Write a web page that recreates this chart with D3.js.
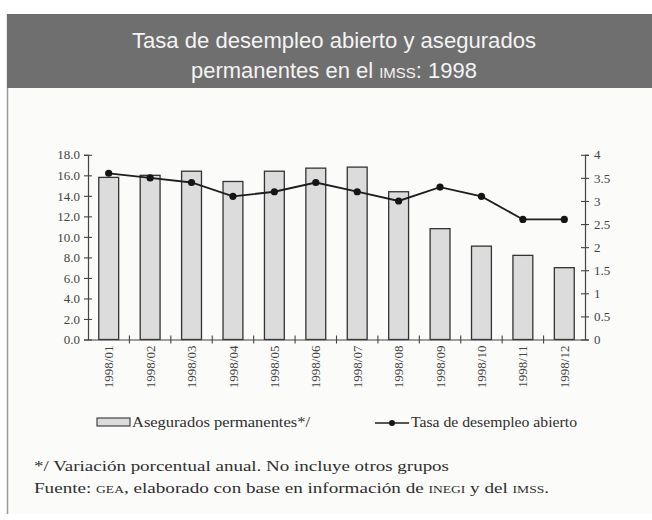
<!DOCTYPE html>
<html>
<head>
<meta charset="utf-8">
<script src="https://cdn.jsdelivr.net/npm/d3@7.9.0/dist/d3.min.js"></script>
<style>
  body { margin: 0; background: #fff; }
  svg { display: block; }
  .serif, .serif text { font-family: 'Liberation Serif', 'Times New Roman', 'DejaVu Serif', serif; }
  .sans, .sans text { font-family: 'Liberation Sans', Arial, sans-serif; }
</style>
</head>
<body>
<svg width="652" height="520"></svg>
<script>
// Data
const months = ['1998/01', '1998/02', '1998/03', '1998/04', '1998/05', '1998/06',
  '1998/07', '1998/08', '1998/09', '1998/10', '1998/11', '1998/12'];
const asegurados = [15.8, 16.0, 16.4, 15.4, 16.4, 16.7, 16.8, 14.4, 10.8, 9.1, 8.2, 7.0];
const desempleo = [3.6, 3.5, 3.4, 3.1, 3.2, 3.4, 3.2, 3.0, 3.3, 3.1, 2.6, 2.6];
const leftTicks = [0, 2, 4, 6, 8, 10, 12, 14, 16, 18];
const rightTicks = [0, 0.5, 1, 1.5, 2, 2.5, 3, 3.5, 4];

const svg = d3.select('svg');
const ink = '#2e2e2e';

// frame + title band
svg.append('rect').attr('x', 7).attr('y', 14).attr('width', 645).attr('height', 500)
  .attr('fill', '#fbfbfa');
svg.append('line').attr('x1', 7.5).attr('x2', 7.5).attr('y1', 14).attr('y2', 514)
  .attr('stroke', '#9a9a9a').attr('stroke-width', 1.5);
svg.append('rect').attr('x', 7).attr('y', 14).attr('width', 645).attr('height', 74)
  .attr('fill', '#6f6f6f');

const title = svg.append('g').attr('class', 'sans')
  .attr('font-size', 22).attr('fill', '#f4f4f4').attr('text-anchor', 'middle');
title.append('text').attr('x', 334).attr('y', 48)
  .attr('textLength', 404).attr('lengthAdjust', 'spacingAndGlyphs')
  .text('Tasa de desempleo abierto y asegurados');
const t2 = title.append('text').attr('x', 334).attr('y', 78)
  .attr('textLength', 286).attr('lengthAdjust', 'spacingAndGlyphs');
t2.append('tspan').text('permanentes en el ');
t2.append('tspan').attr('font-size', 15).text('IMSS');
t2.append('tspan').text(': 1998');

// scales
const x = d3.scaleBand().domain(months).range([88, 585])
  .paddingInner(0.52).paddingOuter(0.26);
const yL = d3.scaleLinear().domain([0, 18]).range([339.5, 154.8]);
const yR = d3.scaleLinear().domain([0, 4]).range([339.5, 154.8]);

// bars
svg.append('g').selectAll('rect').data(months).join('rect')
  .attr('x', d => x(d))
  .attr('y', (d, i) => yL(asegurados[i]))
  .attr('width', x.bandwidth())
  .attr('height', (d, i) => yL(0) - yL(asegurados[i]))
  .attr('fill', '#dcdcdc').attr('stroke', '#333').attr('stroke-width', 1.3);

// axes
function styleAxis(g) {
  g.attr('class', 'serif').attr('font-family', null);
  g.select('.domain').attr('stroke', '#444').attr('stroke-width', 1.2);
  g.selectAll('.tick line').attr('stroke', '#444').attr('stroke-width', 1.1);
  g.selectAll('.tick text').attr('font-size', 13).attr('fill', '#444');
}

const gL = svg.append('g').attr('transform', `translate(88,0)`)
  .call(d3.axisLeft(yL).tickValues(leftTicks).tickFormat(d3.format('.1f')).tickSize(4).tickPadding(4));
styleAxis(gL);
gL.selectAll('.tick line').attr('x1', -4).attr('x2', 4);

const gR = svg.append('g').attr('transform', `translate(585,0)`)
  .call(d3.axisRight(yR).tickValues(rightTicks).tickFormat(d => d).tickSize(4).tickPadding(5));
styleAxis(gR);
gR.selectAll('.tick line').attr('x1', -4).attr('x2', 4);

const gX = svg.append('g').attr('transform', `translate(0,${yL(0)})`)
  .call(d3.axisBottom(x).tickSize(0).tickSizeOuter(0));
styleAxis(gX);
gX.selectAll('.tick text')
  .attr('transform', 'rotate(-90)')
  .attr('text-anchor', 'end')
  .attr('x', -6).attr('y', 0).attr('dy', '0.35em')
  .attr('font-size', 13);

// tick marks between categories
const step = x.step();
svg.append('g').selectAll('line').data(months.slice(1)).join('line')
  .attr('x1', d => x(d) - (step - x.bandwidth()) / 2)
  .attr('x2', d => x(d) - (step - x.bandwidth()) / 2)
  .attr('y1', yL(0) - 4).attr('y2', yL(0) + 4)
  .attr('stroke', '#444').attr('stroke-width', 1.1);

// line series
const line = d3.line()
  .x((d, i) => x(months[i]) + x.bandwidth() / 2)
  .y(d => yR(d));
svg.append('path').datum(desempleo).attr('d', line)
  .attr('fill', 'none').attr('stroke', '#1e1e1e').attr('stroke-width', 1.8);
svg.append('g').selectAll('circle').data(desempleo).join('circle')
  .attr('cx', (d, i) => x(months[i]) + x.bandwidth() / 2)
  .attr('cy', d => yR(d)).attr('r', 3.6).attr('fill', '#151515');

// legend
const lg = svg.append('g').attr('class', 'serif').attr('font-size', 14.5).attr('fill', ink);
lg.append('rect').attr('x', 97).attr('y', 418).attr('width', 33).attr('height', 8)
  .attr('fill', '#dcdcdc').attr('stroke', '#333').attr('stroke-width', 1.1);
lg.append('text').attr('x', 132).attr('y', 427)
  .attr('textLength', 178).attr('lengthAdjust', 'spacingAndGlyphs')
  .text('Asegurados permanentes*/');
lg.append('line').attr('x1', 375).attr('x2', 409).attr('y1', 423).attr('y2', 423)
  .attr('stroke', '#1e1e1e').attr('stroke-width', 1.6);
lg.append('circle').attr('cx', 392).attr('cy', 423).attr('r', 3).attr('fill', '#151515');
lg.append('text').attr('x', 411).attr('y', 427)
  .attr('textLength', 166).attr('lengthAdjust', 'spacingAndGlyphs')
  .text('Tasa de desempleo abierto');

// footnotes
const fn = svg.append('g').attr('class', 'serif').attr('font-size', 15.5).attr('fill', ink);
fn.append('text').attr('x', 34).attr('y', 471)
  .attr('textLength', 415).attr('lengthAdjust', 'spacingAndGlyphs')
  .text('*/ Variación porcentual anual. No incluye otros grupos');
const f2 = fn.append('text').attr('x', 34).attr('y', 493)
  .attr('textLength', 515).attr('lengthAdjust', 'spacingAndGlyphs');
f2.append('tspan').text('Fuente: ');
f2.append('tspan').attr('font-size', 11).text('GEA');
f2.append('tspan').text(', elaborado con base en información de ');
f2.append('tspan').attr('font-size', 11).text('INEGI');
f2.append('tspan').text(' y del ');
f2.append('tspan').attr('font-size', 11).text('IMSS');
f2.append('tspan').text('.');
</script>
</body>
</html>
